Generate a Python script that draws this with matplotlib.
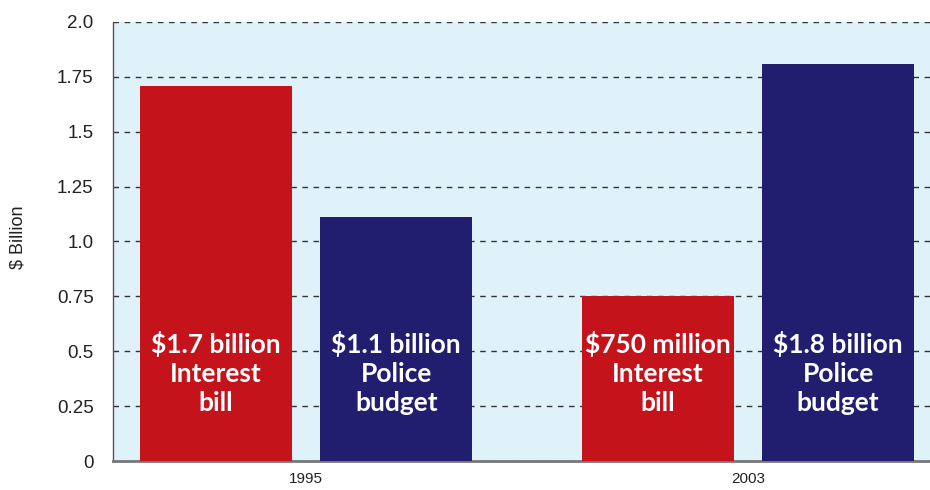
import matplotlib
matplotlib.use("Agg")
import matplotlib.pyplot as plt
from matplotlib import font_manager

years = ["1995", "2003"]
interest = [1.71, 0.75]
police = [1.11, 1.81]
interest_labels = ["$1.7 billion\nInterest\nbill", "$750 million\nInterest\nbill"]
police_labels = ["$1.1 billion\nPolice\nbudget", "$1.8 billion\nPolice\nbudget"]
yticks = [0, 0.25, 0.5, 0.75, 1.0, 1.25, 1.5, 1.75, 2.0]
ytick_labels = ["0", "0.25", "0.5", "0.75", "1.0", "1.25", "1.5", "1.75", "2.0"]

names = {f.name for f in font_manager.fontManager.ttflist}
tick_font = "Liberation Sans Narrow" if "Liberation Sans Narrow" in names else "Liberation Sans"

RED = "#C4131B"
NAVY = "#221E6F"
BG = "#DFF2FA"

fig = plt.figure(figsize=(9.3, 4.9), dpi=100)
ax = fig.add_axes([113/930, 29/490, 1 - 113/930, (461-22)/490])
ax.set_facecolor(BG)

x = range(len(years))
w = 0.344
off = 0.204
xi = [i - off for i in x]
xp = [i + off for i in x]
ax.bar(xi, interest, width=w, color=RED, zorder=3)
ax.bar(xp, police, width=w, color=NAVY, zorder=3)

for xx, lab in zip(xi, interest_labels):
    ax.text(xx, 0.40, lab, ha="center", va="center", color="white",
            fontsize=19, fontweight="bold", family="Lato", linespacing=1.25, zorder=4)
for xx, lab in zip(xp, police_labels):
    ax.text(xx, 0.40, lab, ha="center", va="center", color="white",
            fontsize=19, fontweight="bold", family="Lato", linespacing=1.25, zorder=4)

ax.set_xlim(-0.437, 1.412)
ax.set_ylim(0, 2.0)
ax.set_yticks(yticks)
ax.set_yticklabels(ytick_labels, family=tick_font, fontsize=13.5)
ax.set_xticks(list(x))
ax.set_xticklabels(years, family=tick_font, fontsize=11)
ax.tick_params(axis="both", length=0, colors="#222222")
ax.tick_params(axis="y", pad=14)
ax.tick_params(axis="x", pad=8)
ax.yaxis.grid(True, linestyle=(0, (4, 4)), color="#333333", linewidth=1.0, zorder=1)
ax.set_axisbelow(True)

for s in ["top", "right"]:
    ax.spines[s].set_visible(False)
ax.spines["left"].set_color("#555555")
ax.spines["left"].set_linewidth(1.0)
ax.spines["bottom"].set_color("#777777")
ax.spines["bottom"].set_linewidth(2.0)

fig.text(18/930, 1 - 237/490, "$ Billion", rotation=90, ha="center", va="center",
         family=tick_font, fontsize=13, color="#222222")

fig.savefig("out.png", dpi=100)
